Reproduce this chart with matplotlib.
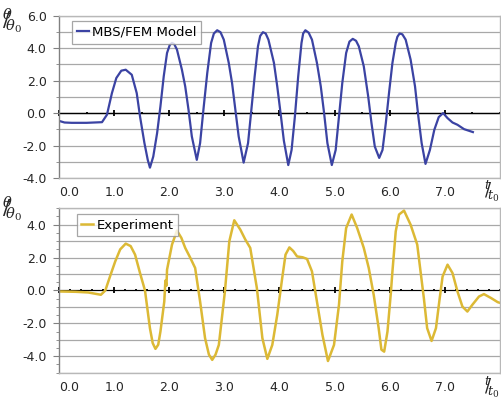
# theta/theta0 over t/t0: MBS/FEM model vs experiment
import matplotlib.pyplot as plt
from matplotlib.ticker import MultipleLocator, FormatStrFormatter

plt.rcParams['mathtext.fontset'] = 'dejavuserif'

# MBS/FEM model (top panel)
t_model = [0.0, 0.1, 0.23, 0.5, 0.78, 0.87, 0.96, 1.04, 1.13, 1.21, 1.32, 1.41, 1.47,
           1.55, 1.61, 1.65, 1.71, 1.78, 1.84, 1.90, 1.96, 2.01, 2.05, 2.09, 2.14,
           2.23, 2.29, 2.35, 2.41, 2.50, 2.56, 2.62, 2.69, 2.76, 2.81, 2.87, 2.93,
           2.99, 3.08, 3.14, 3.20, 3.26, 3.35, 3.43, 3.49, 3.55, 3.61, 3.65, 3.70,
           3.75, 3.80, 3.90, 3.96, 4.02, 4.08, 4.16, 4.22, 4.28, 4.34, 4.40, 4.43,
           4.47, 4.53, 4.59, 4.68, 4.75, 4.81, 4.87, 4.95, 5.02, 5.08, 5.14, 5.21,
           5.27, 5.33, 5.39, 5.44, 5.53, 5.61, 5.67, 5.73, 5.81, 5.87, 5.93, 5.99,
           6.05, 6.11, 6.14, 6.18, 6.23, 6.29, 6.38, 6.46, 6.52, 6.58, 6.65, 6.73,
           6.81, 6.89, 6.97, 7.05, 7.14, 7.23, 7.35, 7.51]
y_model = [-0.48, -0.58, -0.60, -0.60, -0.56, -0.10, 1.23, 2.16, 2.61, 2.67, 2.36, 1.23, -0.21,
           -1.85, -2.88, -3.36, -2.68, -1.23, 0.41, 2.26, 3.70, 4.20, 4.32, 4.25, 3.91,
           2.67, 1.64, 0.20, -1.44, -2.88, -1.85, 0.20, 2.47, 4.32, 4.90, 5.10, 4.98,
           4.52, 3.09, 1.85, 0.20, -1.44, -3.05, -1.85, 0.20, 2.26, 4.11, 4.75, 4.98,
           4.90, 4.52, 3.09, 1.64, 0.00, -1.70, -3.20, -2.27, -0.21, 2.26, 4.32, 4.90,
           5.10, 4.95, 4.52, 3.09, 1.64, 0.00, -1.85, -3.20, -2.27, -0.21, 1.85, 3.70,
           4.40, 4.57, 4.45, 4.11, 2.88, 1.03, -0.62, -2.06, -2.76, -2.27, -0.62, 1.30,
           3.09, 4.32, 4.70, 4.90, 4.85, 4.52, 3.29, 1.64, -0.21, -1.85, -3.13, -2.27,
           -1.03, -0.25, 0.00, -0.31, -0.58, -0.72, -0.99, -1.17]

# Experiment (bottom panel)
t_exp = [0.0, 0.3, 0.53, 0.66, 0.76, 0.84, 0.93, 1.02, 1.11, 1.21, 1.30, 1.38, 1.47,
         1.56, 1.65, 1.70, 1.75, 1.80, 1.84, 1.91, 1.93, 1.95, 1.96, 2.05, 2.14,
         2.22, 2.29, 2.38, 2.47, 2.56, 2.65, 2.72, 2.78, 2.84, 2.90, 3.01, 3.09,
         3.18, 3.29, 3.38, 3.47, 3.59, 3.69, 3.78, 3.87, 3.96, 4.05, 4.11, 4.18,
         4.25, 4.32, 4.42, 4.50, 4.59, 4.68, 4.78, 4.88, 4.99, 5.08, 5.14, 5.21,
         5.31, 5.41, 5.47, 5.53, 5.62, 5.71, 5.80, 5.85, 5.90, 5.96, 6.02, 6.05,
         6.11, 6.17, 6.26, 6.38, 6.50, 6.56, 6.62, 6.68, 6.76, 6.84, 6.90, 6.96,
         7.05, 7.14, 7.23, 7.32, 7.41, 7.50, 7.62, 7.71, 7.84, 7.96, 8.0]
y_exp = [-0.06, -0.08, -0.12, -0.20, -0.26, 0.00, 0.90, 1.77, 2.50, 2.85, 2.70, 2.18, 1.06,
         0.00, -2.30, -3.20, -3.55, -3.30, -2.50, -0.67, 0.60, 0.30, 1.26, 2.79, 3.64,
         3.20, 2.59, 2.00, 1.37, -0.67, -2.90, -3.90, -4.22, -3.90, -3.31, -0.06, 2.99,
         4.27, 3.70, 3.10, 2.59, 0.15, -2.90, -4.16, -3.31, -1.48, 0.76, 2.18, 2.62,
         2.40, 2.07, 2.02, 1.92, 1.16, -0.67, -2.70, -4.29, -3.31, -0.87, 1.77, 3.80,
         4.62, 3.80, 3.20, 2.59, 1.37, -0.26, -2.29, -3.60, -3.72, -2.50, -0.20, 1.16,
         3.60, 4.62, 4.86, 4.00, 2.79, 1.16, -0.46, -2.29, -3.07, -2.29, -0.67, 0.85,
         1.57, 1.06, -0.06, -0.98, -1.28, -0.87, -0.37, -0.22, -0.46, -0.71, -0.75]

x_ticks = [0, 1, 2, 3, 4, 5, 6, 7]
x_labels = ['0.0', '1.0', '2.0', '3.0', '4.0', '5.0', '6.0', '7.0']

blue = '#3b43a3'
gold = '#dcb935'
grid_c = '#a8a8a8'
txt_c = '#262626'

fig = plt.figure(figsize=(5.01, 4.01), dpi=100)
ax1 = fig.add_axes([0.1178, 0.556, 0.880, 0.405])
ax2 = fig.add_axes([0.1178, 0.0706, 0.880, 0.410])


def style(ax, ymin, ymax, minor, dot_step, label):
    ax.set_xlim(0, 8)
    ax.set_ylim(ymin, ymax)
    ax.yaxis.set_major_locator(MultipleLocator(2))
    ax.yaxis.set_minor_locator(MultipleLocator(minor))
    ax.yaxis.set_major_formatter(FormatStrFormatter('%.1f'))
    for yv in range(ymin, ymax + 1):
        ax.axhline(yv, color=grid_c, lw=0.9, zorder=0)
    for s in ax.spines.values():
        s.set_color('#b8b8b8')
        s.set_linewidth(1.0)
    ax.spines['left'].set_color('#808080')
    ax.tick_params(axis='y', which='major', length=4, color='#808080',
                   labelsize=9, labelcolor=txt_c, pad=5)
    ax.tick_params(axis='y', which='minor', length=2.5, color='#808080')
    ax.set_xticks(x_ticks)
    ax.set_xticklabels(x_labels)
    ax.tick_params(axis='x', length=0, labelsize=9, labelcolor=txt_c, pad=6)
    ax.get_xticklabels()[0].set_ha('left')
    # black zero axis with ticks
    sec = ax.secondary_xaxis((0 - ymin) / (ymax - ymin))
    sec.spines['bottom'].set_color('black')
    sec.spines['bottom'].set_linewidth(1.0)
    sec.spines['top'].set_color('black')
    sec.set_xticks(x_ticks)
    sec.set_xticklabels([])
    sec.xaxis.set_minor_locator(MultipleLocator(dot_step))
    sec.tick_params(axis='x', which='major', direction='inout', length=5, width=1.3,
                    labelbottom=False, labeltop=False)
    sec.tick_params(axis='x', which='minor', direction='inout', length=1.5, width=1.3)
    leg = ax.legend(loc='upper left', bbox_to_anchor=(label, 0.965), fontsize=9.5,
                    frameon=True, fancybox=False, handlelength=0.9,
                    handletextpad=0.25, borderpad=0.35, borderaxespad=0)
    leg.get_frame().set_edgecolor('#909090')
    leg.get_frame().set_linewidth(0.9)


ax1.plot(t_model, y_model, color=blue, lw=1.6, label='MBS/FEM Model')
style(ax1, -4, 6, 1, 0.5, 0.03)
ax2.plot(t_exp, y_exp, color=gold, lw=1.8, label='Experiment')
style(ax2, -5, 5, 0.5, 0.2, 0.04)

# slanted fraction labels, one text each
for top in (21, 209):
    fig.text(2 / 501, 1 - top / 401, r'${}^{\theta}\!\!\!/\!{}_{\theta_0}$', size=15,
             color=txt_c, ha='left', va='center')

for top in (191, 387):
    fig.text(500 / 501, 1 - top / 401, r'${}^{t}\!\!/\!{}_{t_0}$', size=13,
             color=txt_c, ha='right', va='center')

fig.savefig('out.png', dpi=100)
